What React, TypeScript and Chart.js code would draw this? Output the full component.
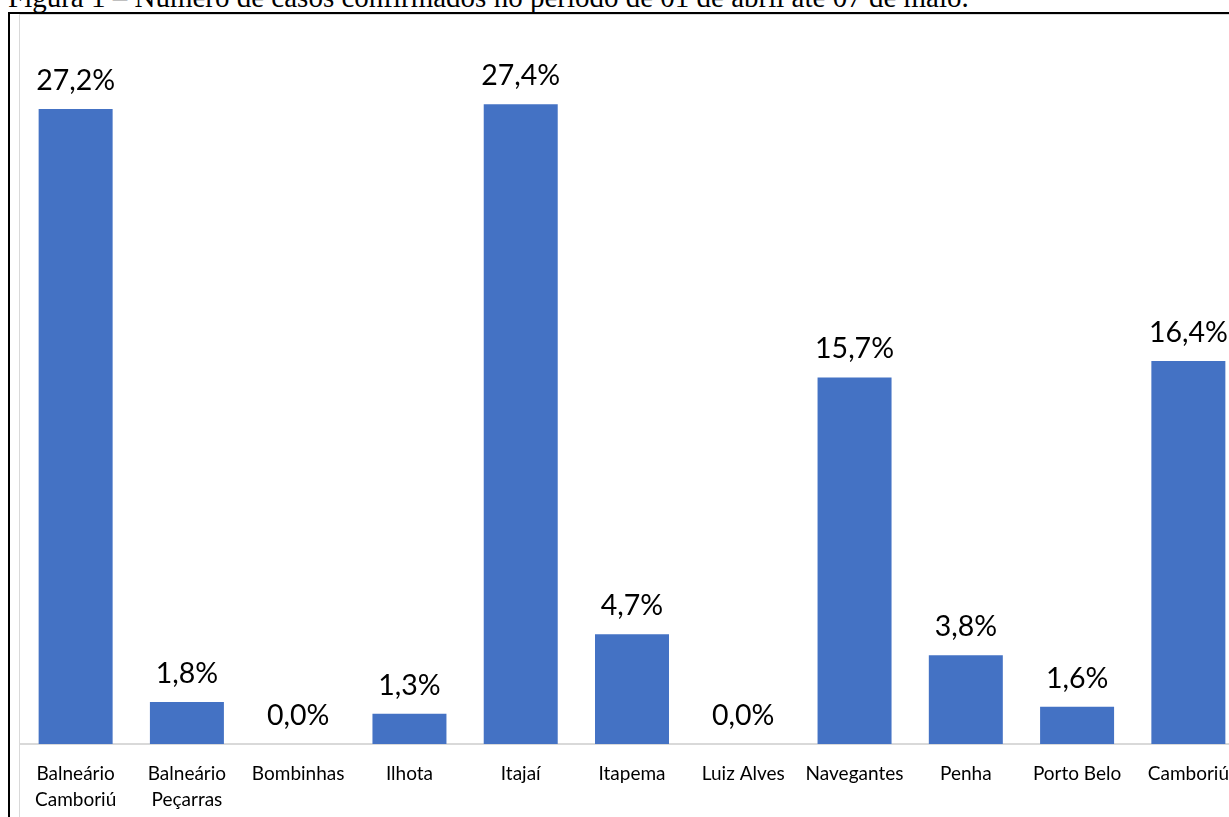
import React, { useEffect, useRef } from "react";
import { Chart, registerables } from "chart.js";

Chart.register(...registerables);

const caption = "Figura 1 – Número de casos confirmados no período de 01 de abril até 07 de maio.";

const categories: (string | string[])[] = [
  ["Balneário", "Camboriú"],
  ["Balneário", "Peçarras"],
  "Bombinhas",
  "Ilhota",
  "Itajaí",
  "Itapema",
  "Luiz Alves",
  "Navegantes",
  "Penha",
  "Porto Belo",
  "Camboriú",
];

const values: number[] = [27.2, 1.8, 0.0, 1.3, 27.4, 4.7, 0.0, 15.7, 3.8, 1.6, 16.4];

const fmt = (v: number) => v.toFixed(1).replace(".", ",") + "%";

const valueLabels = {
  id: "valueLabels",
  afterDatasetsDraw(chart: any) {
    const ctx = chart.ctx;
    const meta = chart.getDatasetMeta(0);
    ctx.save();
    ctx.font = "28.5px Lato";
    ctx.fillStyle = "#000000";
    ctx.textAlign = "center";
    ctx.textBaseline = "alphabetic";
    meta.data.forEach((bar: any, i: number) => {
      ctx.fillText(fmt(values[i]), bar.x, bar.y - 19);
    });
    ctx.restore();
  },
};

export default function App() {
  const ref = useRef<HTMLCanvasElement | null>(null);

  useEffect(() => {
    if (!ref.current) return;
    const chart = new Chart(ref.current, {
      type: "bar",
      data: {
        labels: categories as any,
        datasets: [
          {
            data: values,
            backgroundColor: "#4472C4",
            borderWidth: 0,
            barPercentage: 0.665,
            categoryPercentage: 1,
          },
        ],
      },
      options: {
        responsive: false,
        animation: false,
        devicePixelRatio: 1,
        layout: { padding: 0 },
        plugins: {
          legend: { display: false },
          tooltip: { enabled: false },
          title: { display: false },
        },
        scales: {
          x: {
            offset: true,
            grid: { display: false, drawTicks: false },
            border: { display: true, color: "#d9d9d9", width: 2 },
            ticks: {
              color: "#000000",
              padding: 17,
              maxRotation: 0,
              autoSkip: false,
              font: { family: "Lato", size: 19, lineHeight: "26px" },
            },
            afterFit: (scale: any) => {
              scale.height = 73;
              scale.paddingLeft = 0;
              scale.paddingRight = 0;
            },
          },
          y: {
            display: false,
            min: 0,
            max: 31.18,
          },
        },
      },
      plugins: [valueLabels],
    });
    return () => chart.destroy();
  }, []);

  return (
    <div
      style={{
        position: "fixed",
        left: 0,
        top: 0,
        width: 1229,
        height: 817,
        overflow: "hidden",
        background: "#ffffff",
      }}
    >
      <div
        style={{
          position: "absolute",
          left: 8,
          top: -17,
          fontFamily: "'Liberation Serif', 'Times New Roman', serif",
          fontSize: 29,
          lineHeight: "29px",
          whiteSpace: "nowrap",
          color: "#000",
        }}
      >
        {caption}
      </div>
      <div
        style={{
          position: "absolute",
          left: 8,
          top: 12,
          width: 1400,
          height: 1000,
          borderLeft: "2px solid #000",
          borderTop: "2px solid #000",
        }}
      />
      <div
        style={{
          position: "absolute",
          left: 19,
          top: 14,
          width: 1400,
          height: 1000,
          borderLeft: "1px solid #d9d9d9",
          borderTop: "1px solid #d9d9d9",
        }}
      />
      <canvas
        ref={ref}
        width={1224}
        height={801}
        style={{ position: "absolute", left: 20, top: 16, width: 1224, height: 801 }}
      />
    </div>
  );
}
